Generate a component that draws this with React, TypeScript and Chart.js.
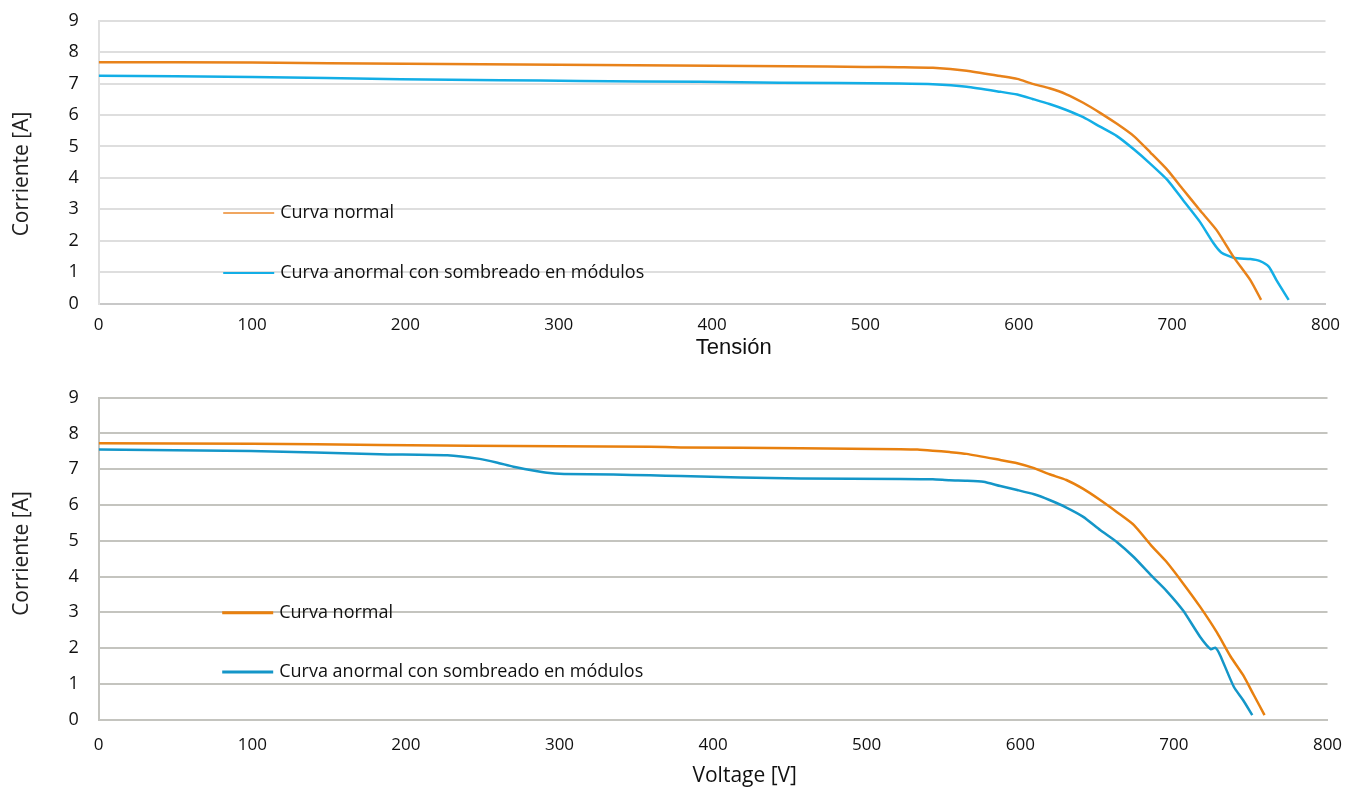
import React, { useEffect, useRef } from "react";
import { Chart, registerables } from "chart.js";

Chart.register(...registerables);

// ---------- Data ----------
// Top chart: x = Tensión [V], y = Corriente [A]
const TOP_NORMAL_V = [0, 100, 200, 300, 400, 450, 500, 522, 544, 566, 588, 599, 609, 620, 631, 642, 653, 664, 675, 686, 697, 707, 718, 729, 740, 751, 758];
const TOP_NORMAL_I = [7.68, 7.67, 7.63, 7.6, 7.57, 7.55, 7.53, 7.52, 7.5, 7.41, 7.24, 7.15, 6.99, 6.85, 6.66, 6.39, 6.07, 5.72, 5.33, 4.8, 4.25, 3.64, 2.98, 2.34, 1.49, 0.75, 0.12];

const TOP_SHADED_V = [0, 100, 197, 262, 314, 392, 444, 522, 544, 566, 588, 599, 609, 620, 631, 642, 653, 664, 675, 686, 697, 707, 718, 727, 732, 740, 751, 757, 763, 768, 776];
const TOP_SHADED_I = [7.25, 7.21, 7.14, 7.11, 7.08, 7.06, 7.03, 7.0, 6.98, 6.9, 6.74, 6.65, 6.51, 6.35, 6.16, 5.93, 5.63, 5.33, 4.91, 4.44, 3.93, 3.3, 2.61, 1.92, 1.63, 1.46, 1.42, 1.36, 1.18, 0.75, 0.12];

// Bottom chart: x = Voltage [V], y = Corriente [A]
const BOTTOM_NORMAL_V = [0, 100, 183, 300, 359, 379, 457, 522, 533, 543, 554, 565, 587, 598, 609, 619, 630, 641, 652, 663, 674, 685, 695, 706, 717, 728, 737, 745, 752, 759];
const BOTTOM_NORMAL_I = [7.73, 7.71, 7.68, 7.64, 7.63, 7.61, 7.59, 7.56, 7.55, 7.52, 7.48, 7.43, 7.26, 7.17, 7.03, 6.86, 6.7, 6.45, 6.14, 5.8, 5.44, 4.88, 4.42, 3.81, 3.16, 2.44, 1.76, 1.25, 0.69, 0.13];

const BOTTOM_SHADED_V = [0, 99, 183, 227, 248, 259, 270, 281, 292, 303, 335, 359, 379, 457, 522, 543, 554, 565, 576, 587, 598, 609, 619, 630, 641, 652, 663, 674, 685, 695, 706, 717, 724, 727, 730, 739, 745, 751];
const BOTTOM_SHADED_I = [7.55, 7.51, 7.42, 7.39, 7.29, 7.19, 7.07, 6.98, 6.9, 6.87, 6.85, 6.83, 6.81, 6.74, 6.73, 6.72, 6.69, 6.68, 6.65, 6.53, 6.42, 6.3, 6.14, 5.93, 5.67, 5.3, 4.96, 4.54, 4.04, 3.61, 3.05, 2.32, 1.97, 2.01, 1.81, 0.92, 0.55, 0.13];

const SERIES_LABELS = ["Curva normal", "Curva anormal con sombreado en módulos"];
const Y_TITLE = "Corriente [A]";
const TOP_X_TITLE = "Tensión";
const BOTTOM_X_TITLE = "Voltage [V]";
const X_MIN = 0;
const X_MAX = 800;
const X_STEP = 100;
const Y_MIN = 0;
const Y_MAX = 9;
const Y_STEP = 1;

const FONT = "'Open Sans', 'Noto Sans', sans-serif";

const toPoints = (xs: number[], ys: number[]) => xs.map((x, i) => ({ x, y: ys[i] }));

type Cfg = {
  height: number;
  padTop: number;
  padRight: number;
  yWidth: number;
  xHeight: number;
  normal: { x: number; y: number }[];
  shaded: { x: number; y: number }[];
  colors: [string, string];
  legendColors: [string, string];
  legendWidth: number;
  lineWidth: number;
  gridColor: string;
  xBorderColor: string;
  yBorderColor: string;
  xTitle: string;
  xTitleFont: string;
  xTitlePos: [number, number]; // [offset from chart area left, canvas y]
  yTitlePos: [number, number]; // [canvas x, canvas y]
  xTickPad: number;
  legendLeft: number; // px offset from chart area left
  legendYs: [number, number]; // px offset from chart area top
};

function IVChart({ cfg }: { cfg: Cfg }) {
  const ref = useRef<HTMLCanvasElement | null>(null);

  useEffect(() => {
    if (!ref.current) return;

    const inlineLegendAndTitles = {
      id: "inlineLegendAndTitles",
      afterDraw(chart: any) {
        const { ctx, chartArea } = chart;
        ctx.save();
        // legend drawn inside the plot area
        SERIES_LABELS.forEach((label, i) => {
          const x0 = chartArea.left + cfg.legendLeft;
          const y = chartArea.top + cfg.legendYs[i];
          ctx.strokeStyle = cfg.legendColors[i];
          ctx.lineWidth = cfg.legendWidth;
          ctx.beginPath();
          ctx.moveTo(x0, y);
          ctx.lineTo(x0 + 51, y);
          ctx.stroke();
          ctx.fillStyle = "#111";
          ctx.font = `18px ${FONT}`;
          ctx.textBaseline = "middle";
          ctx.textAlign = "left";
          ctx.fillText(label, x0 + 57, y);
        });
        // axis titles
        ctx.fillStyle = "#111";
        ctx.textAlign = "center";
        ctx.textBaseline = "middle";
        ctx.font = cfg.xTitleFont;
        ctx.fillText(cfg.xTitle, chartArea.left + cfg.xTitlePos[0], cfg.xTitlePos[1]);
        ctx.fillStyle = "#222";
        ctx.font = `21px ${FONT}`;
        ctx.translate(cfg.yTitlePos[0], cfg.yTitlePos[1]);
        ctx.rotate(-Math.PI / 2);
        ctx.fillText(Y_TITLE, 0, 0);
        ctx.restore();
      },
    };

    const chart = new Chart(ref.current, {
      type: "scatter",
      data: {
        datasets: [
          {
            label: SERIES_LABELS[0],
            data: cfg.normal,
            showLine: true,
            borderColor: cfg.colors[0],
            backgroundColor: cfg.colors[0],
            borderWidth: cfg.lineWidth,
            pointRadius: 0,
            tension: 0.2,
          },
          {
            label: SERIES_LABELS[1],
            data: cfg.shaded,
            showLine: true,
            borderColor: cfg.colors[1],
            backgroundColor: cfg.colors[1],
            borderWidth: cfg.lineWidth,
            pointRadius: 0,
            tension: 0.2,
          },
        ],
      },
      options: {
        animation: false,
        responsive: false,
        maintainAspectRatio: false,
        layout: { padding: { top: cfg.padTop, right: cfg.padRight, left: 0, bottom: 0 } },
        plugins: {
          legend: { display: false },
          tooltip: { enabled: false },
        },
        scales: {
          x: {
            type: "linear",
            min: X_MIN,
            max: X_MAX,
            ticks: {
              stepSize: X_STEP,
              color: "#111",
              padding: cfg.xTickPad,
              font: { family: FONT, size: 17 },
              maxRotation: 0,
            },
            grid: { display: false, drawTicks: false },
            border: { display: true, color: cfg.xBorderColor, width: 2 },
            title: { display: false, text: cfg.xTitle },
            afterFit: (scale: any) => {
              scale.height = cfg.xHeight;
              scale.paddingLeft = 0;
              scale.paddingRight = 0;
            },
          },
          y: {
            type: "linear",
            min: Y_MIN,
            max: Y_MAX,
            ticks: {
              stepSize: Y_STEP,
              color: "#111",
              padding: 20,
              font: { family: FONT, size: 18 },
            },
            grid: { color: cfg.gridColor, lineWidth: 2, drawTicks: false },
            border: { display: true, color: cfg.yBorderColor, width: 2 },
            title: { display: false, text: Y_TITLE },
            afterFit: (scale: any) => {
              scale.width = cfg.yWidth;
              scale.paddingTop = 0;
              scale.paddingBottom = 0;
            },
          },
        },
      } as any,
      plugins: [inlineLegendAndTitles],
    });

    return () => chart.destroy();
  }, [cfg]);

  return <canvas ref={ref} width={1356} height={cfg.height} style={{ display: "block" }} />;
}

const TOP_CFG: Cfg = {
  height: 372,
  padTop: 20.7,
  padRight: 30.5,
  yWidth: 98.7,
  xHeight: 68.3,
  normal: toPoints(TOP_NORMAL_V, TOP_NORMAL_I),
  shaded: toPoints(TOP_SHADED_V, TOP_SHADED_I),
  colors: ["#E8821A", "#13AEE6"],
  legendColors: ["#F0A660", "#13AEE6"],
  legendWidth: 2,
  lineWidth: 2.5,
  gridColor: "#DEDEDE",
  xBorderColor: "#C8C8C8",
  yBorderColor: "#E0E0E0",
  xTitle: TOP_X_TITLE,
  xTitleFont: "22px 'Liberation Sans', Arial, sans-serif",
  xTitlePos: [635, 348],
  yTitlePos: [22, 174],
  xTickPad: 11,
  legendLeft: 124.5,
  legendYs: [192.3, 252.3],
};

const BOTTOM_CFG: Cfg = {
  height: 417,
  padTop: 25.7,
  padRight: 28.5,
  yWidth: 98.7,
  xHeight: 69.3,
  normal: toPoints(BOTTOM_NORMAL_V, BOTTOM_NORMAL_I),
  shaded: toPoints(BOTTOM_SHADED_V, BOTTOM_SHADED_I),
  colors: ["#E8800F", "#1496C8"],
  legendColors: ["#E8800F", "#1496C8"],
  legendWidth: 3,
  lineWidth: 2.5,
  gridColor: "#C4C4BF",
  xBorderColor: "#C4C4BF",
  yBorderColor: "#C4C4BF",
  xTitle: BOTTOM_X_TITLE,
  xTitleFont: `21px ${FONT}`,
  xTitlePos: [646, 404],
  yTitlePos: [22, 181.5],
  xTickPad: 15,
  legendLeft: 123.5,
  legendYs: [215, 274.3],
};

export default function App() {
  useEffect(() => {
    document.body.style.margin = "0";
    document.body.style.background = "#fff";
  }, []);
  return (
    <div style={{ width: 1356, height: 789, background: "#fff" }}>
      <IVChart cfg={TOP_CFG} />
      <IVChart cfg={BOTTOM_CFG} />
    </div>
  );
}
